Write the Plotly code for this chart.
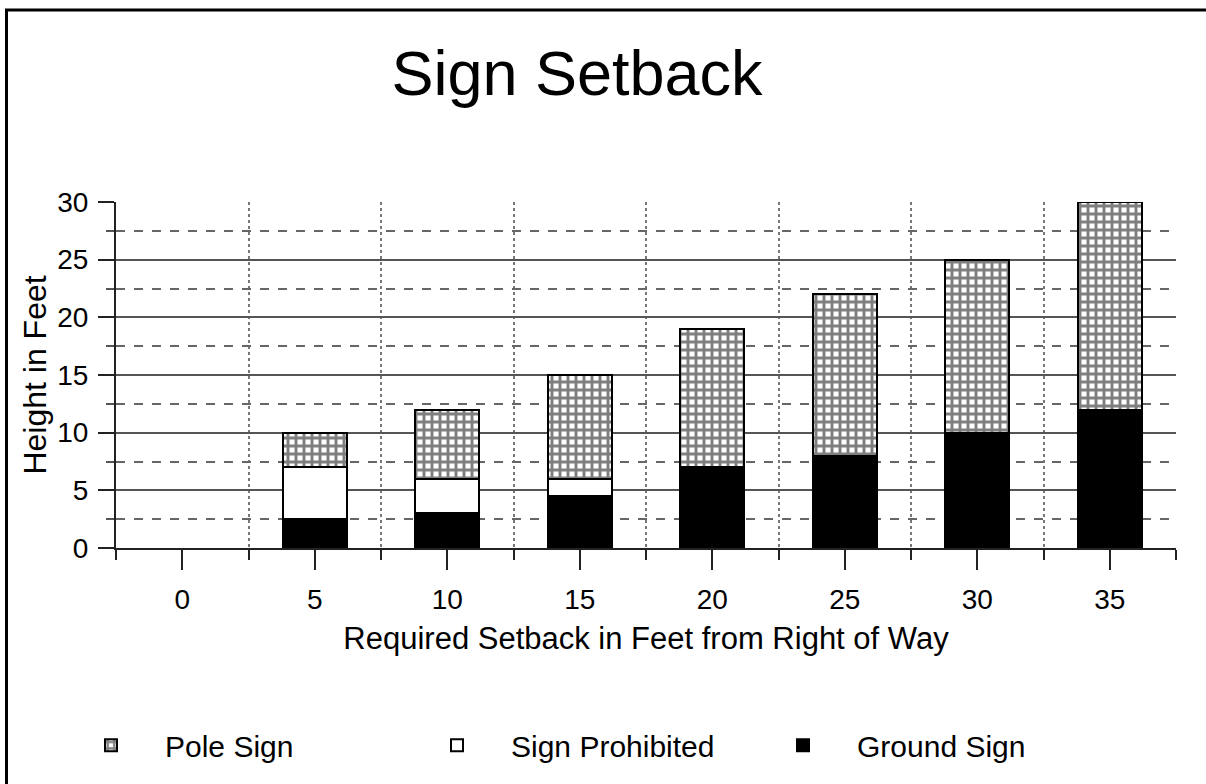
import plotly.graph_objects as go

# ---- data (None = no segment drawn) ----
setback_ft = [0, 5, 10, 15, 20, 25, 30, 35]
ground_sign = [None, 2.5, 3, 4.5, 7, 8, 10, 12]
sign_prohibited = [None, 4.5, 3, 1.5, None, None, None, None]
pole_sign = [None, 3, 6, 9, 12, 14, 15, 18]
y_ticks = [0, 5, 10, 15, 20, 25, 30]

FONT = "Liberation Sans, Arial, Helvetica, sans-serif"
LINE = "#222222"

fig = go.Figure()
fig.add_trace(go.Bar(
    x=setback_ft, y=ground_sign, name="Ground Sign",
    marker=dict(color="black", line=dict(color="black", width=2)),
))
fig.add_trace(go.Bar(
    x=setback_ft, y=sign_prohibited, name="Sign Prohibited",
    marker=dict(color="white", line=dict(color="black", width=2)),
))
fig.add_trace(go.Bar(
    x=setback_ft, y=pole_sign, name="Pole Sign",
    marker=dict(color="white", line=dict(color="black", width=2),
                pattern=dict(shape="+", fgcolor="black", bgcolor="white",
                             size=8, solidity=0.6)),
))

fig.update_layout(
    width=1206, height=784,
    barmode="stack", bargap=0.517,
    paper_bgcolor="white", plot_bgcolor="white",
    margin=dict(l=116, r=30, t=202, b=236),
    font=dict(family=FONT, color="black"),
    title=dict(text="Sign Setback", font=dict(size=63, family=FONT, color="black"),
               xref="container", x=577 / 1206, xanchor="center",
               yref="container", y=1 - 73 / 784, yanchor="middle"),
    xaxis=dict(
        range=[-2.5, 37.5], tickmode="array", tickvals=setback_ft,
        ticks="outside", ticklen=20, tickwidth=2, tickcolor=LINE,
        showline=True, linecolor=LINE, linewidth=2,
        showgrid=False, zeroline=False,
        tickfont=dict(size=28), ticklabelstandoff=5,
        title=dict(text="Required Setback in Feet from Right of Way",
                   font=dict(size=31), standoff=14),
        minor=dict(tickmode="linear", tick0=2.5, dtick=5, ticks="outside",
                   ticklen=10, tickwidth=2, tickcolor=LINE,
                   showgrid=True, griddash="dot", gridcolor="#777777", gridwidth=1.5),
    ),
    xaxis2=dict(
        overlaying="x", anchor="y", side="bottom", matches="x",
        range=[-2.5, 37.5], tickmode="linear", tick0=2.5, dtick=5,
        ticks="inside", ticklen=10, tickwidth=2, tickcolor=LINE,
        showticklabels=False, showgrid=False, zeroline=False, showline=False,
    ),
    yaxis=dict(
        range=[0, 30], tickmode="array", tickvals=y_ticks,
        ticks="outside", ticklen=16, tickwidth=2, tickcolor=LINE,
        showline=True, linecolor=LINE, linewidth=2,
        showgrid=True, gridcolor="#555555", gridwidth=1.5, zeroline=False,
        tickfont=dict(size=28), ticklabelstandoff=4,
        title=dict(text="Height in Feet", font=dict(size=32), standoff=1),
        minor=dict(tickmode="linear", tick0=2.5, dtick=5, ticks="outside",
                   ticklen=8, tickwidth=1.5, tickcolor="#555555",
                   showgrid=True, griddash="dash", gridcolor="#666666", gridwidth=1.5),
    ),
    legend=dict(orientation="h", traceorder="reversed",
                x=(57 - 116) / 1060, xanchor="left", y=-0.57, yanchor="middle",
                font=dict(size=30), entrywidth=233, entrywidthmode="pixels",
                itemwidth=98, bgcolor="rgba(0,0,0,0)"),
    showlegend=True,
    shapes=[
        dict(type="line", xref="paper", yref="paper",
             x0=(6.5 - 116) / 1060, x1=(6.5 - 116) / 1060,
             y0=(548 - 9) / 346, y1=(548 - 800) / 346,
             line=dict(color="black", width=3)),
        dict(type="line", xref="paper", yref="paper",
             x0=(5 - 116) / 1060, x1=(1220 - 116) / 1060,
             y0=(548 - 10) / 346, y1=(548 - 10) / 346,
             line=dict(color="black", width=3)),
    ],
)

fig.write_html(
    "out.html",
    config={"displayModeBar": False},
    post_script="document.body.style.margin='0';document.documentElement.style.overflow='hidden';",
)
